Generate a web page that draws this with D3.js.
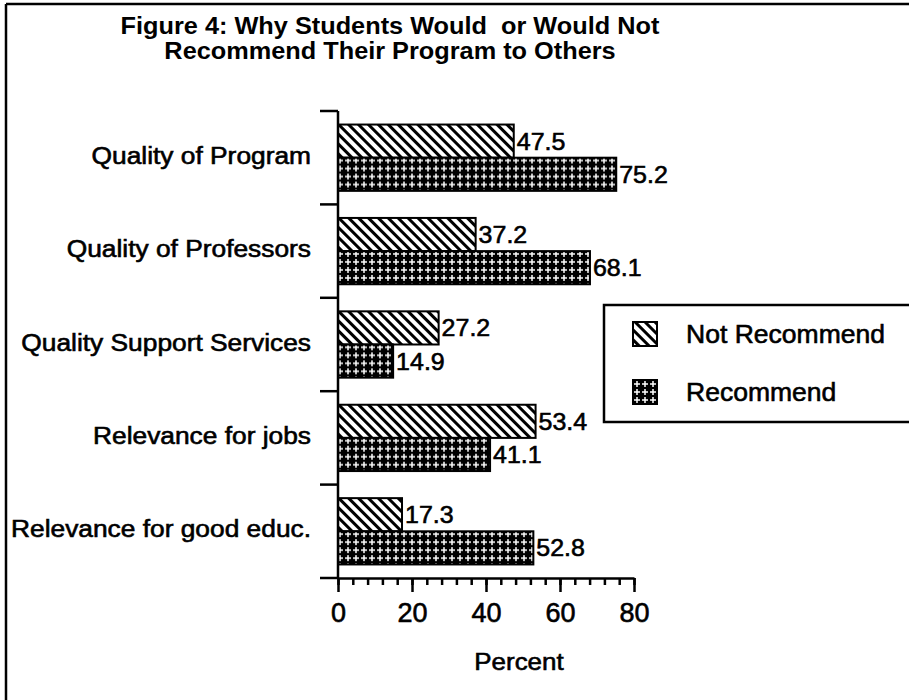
<!DOCTYPE html>
<html>
<head>
<meta charset="utf-8">
<script src="https://cdn.jsdelivr.net/npm/d3@7"></script>
<style>
  html, body { margin: 0; padding: 0; background: #fff; }
  svg { display: block; }
  text { font-family: "Liberation Sans", Arial, Helvetica, sans-serif; fill: #000; }
  text.heavy { stroke: #000; stroke-width: 0.6px; }
</style>
</head>
<body>
<svg id="chart" width="909" height="700"></svg>
<script>
// ---- data ----
const categories = [
  "Quality of Program",
  "Quality of Professors",
  "Quality Support Services",
  "Relevance for jobs",
  "Relevance for good educ."
];
const seriesNames = ["Not Recommend", "Recommend"];
const notRecommend = [47.5, 37.2, 27.2, 53.4, 17.3];
const recommend = [75.2, 68.1, 14.9, 41.1, 52.8];
const xTicks = [0, 20, 40, 60, 80];
const titleLines = ["Figure 4: Why Students Would  or Would Not", "Recommend Their Program to Others"];
const xLabel = "Percent";

const seriesValues = [notRecommend, recommend];
const patternIds = ["pNot", "pRec"];

const svg = d3.select("#chart");

function stretch(sel, f) {
  sel.each(function () {
    const w = this.getComputedTextLength();
    this.setAttribute("textLength", w * f);
    this.setAttribute("lengthAdjust", "spacingAndGlyphs");
  });
}

// ---- patterns ----
const defs = svg.append("defs");
const p1 = defs.append("pattern").attr("id", "pNot")
  .attr("patternUnits", "userSpaceOnUse").attr("width", 7).attr("height", 7)
  .attr("patternTransform", "rotate(-45)");
p1.append("rect").attr("width", 7).attr("height", 7).attr("fill", "#fff");
p1.append("rect").attr("x", 0).attr("width", 3).attr("height", 7).attr("fill", "#000");

const p2 = defs.append("pattern").attr("id", "pRec")
  .attr("patternUnits", "userSpaceOnUse").attr("width", 8).attr("height", 8);
p2.append("rect").attr("width", 8).attr("height", 8).attr("fill", "#000");
p2.append("rect").attr("x", 1).attr("y", 3.25).attr("width", 6).attr("height", 1.5).attr("fill", "#fff");
p2.append("rect").attr("x", 3.25).attr("y", 1).attr("width", 1.5).attr("height", 6).attr("fill", "#fff");

// ---- frame ----
svg.append("line").attr("x1", 6).attr("y1", 4).attr("x2", 909).attr("y2", 4)
  .attr("stroke", "#000").attr("stroke-width", 2.5);
svg.append("line").attr("x1", 6).attr("y1", 4).attr("x2", 6).attr("y2", 700)
  .attr("stroke", "#000").attr("stroke-width", 2.5);

// ---- title ----
const title = svg.append("g").selectAll("text").data(titleLines).join("text")
  .attr("x", 390).attr("y", (d, i) => 34 + i * 25)
  .attr("text-anchor", "middle")
  .style("font-size", "23px").style("font-weight", "bold")
  .style("white-space", "pre")
  .text(d => d);
stretch(title, 1.1);

// ---- scales ----
const x = d3.scaleLinear().domain([0, 80]).range([338, 634]);
const y = d3.scaleBand().domain(categories).range([111, 578])
  .paddingInner(0.29).paddingOuter(0.145);
const ySub = d3.scaleBand().domain(seriesNames).range([0, y.bandwidth()]);

// ---- bars ----
const groups = svg.append("g").selectAll("g").data(categories).join("g")
  .attr("transform", d => `translate(0,${y(d)})`);

seriesNames.forEach((s, si) => {
  groups.append("rect")
    .attr("x", x(0))
    .attr("y", ySub(s))
    .attr("width", (d, i) => x(seriesValues[si][i]) - x(0))
    .attr("height", ySub.bandwidth())
    .attr("fill", `url(#${patternIds[si]})`)
    .attr("stroke", "#000").attr("stroke-width", 2);
  const lbl = groups.append("text").attr("class", "heavy")
    .attr("x", (d, i) => x(seriesValues[si][i]) + 3)
    .attr("y", ySub(s) + ySub.bandwidth() / 2 + 8.5)
    .style("font-size", "24px")
    .text((d, i) => seriesValues[si][i].toFixed(1));
  stretch(lbl, 1.04);
});

// ---- y axis ----
const r0 = y.range()[0];
const yAxis = svg.append("g");
yAxis.append("line").attr("x1", x(0)).attr("x2", x(0))
  .attr("y1", r0).attr("y2", y.range()[1])
  .attr("stroke", "#000").attr("stroke-width", 2.5);
yAxis.selectAll("line.tk").data(d3.range(categories.length + 1)).join("line")
  .attr("class", "tk")
  .attr("x1", x(0) - 18).attr("x2", x(0))
  .attr("y1", i => r0 + i * y.step()).attr("y2", i => r0 + i * y.step())
  .attr("stroke", "#000").attr("stroke-width", 2.5);
const catLbl = yAxis.selectAll("text").data(categories).join("text")
  .attr("class", "heavy")
  .attr("x", 311)
  .attr("y", d => y(d) + y.bandwidth() / 2 + 6)
  .attr("text-anchor", "end")
  .style("font-size", "23.5px")
  .text(d => d);
stretch(catLbl, 1.12);

// ---- x axis ----
const xAxisY = y.range()[1];
const minorAxis = svg.append("g").attr("transform", `translate(0,${xAxisY})`)
  .call(d3.axisBottom(x).tickValues(d3.range(0, 81, 4)).tickSize(7).tickSizeOuter(0).tickFormat(""));
minorAxis.selectAll("line").attr("stroke-width", 2.5);
minorAxis.select(".domain").attr("stroke-width", 2.5);

const majorAxis = svg.append("g").attr("transform", `translate(0,${xAxisY})`)
  .call(d3.axisBottom(x).tickValues(xTicks).tickSize(14).tickSizeOuter(0));
majorAxis.select(".domain").remove();
majorAxis.selectAll("line").attr("stroke-width", 2.5);
majorAxis.selectAll("text")
  .attr("class", "heavy")
  .attr("y", 44).attr("dy", 0)
  .style("font-size", "27px").style("font-family", "Liberation Sans, Arial, sans-serif")
  .attr("fill", "#000");

const xl = svg.append("text").attr("class", "heavy").attr("x", 519).attr("y", 670)
  .attr("text-anchor", "middle").style("font-size", "24px").text(xLabel);
stretch(xl, 1.08);

// ---- legend ----
const legend = svg.append("g");
legend.append("rect").attr("x", 604).attr("y", 305).attr("width", 320).attr("height", 117)
  .attr("fill", "#fff").attr("stroke", "#000").attr("stroke-width", 2.5);
const li = legend.selectAll("g.item").data(seriesNames).join("g").attr("class", "item")
  .attr("transform", (d, i) => `translate(633,${322 + i * 58})`);
li.append("rect").attr("width", 24).attr("height", 24)
  .attr("fill", (d, i) => `url(#${patternIds[i]})`)
  .attr("stroke", "#000").attr("stroke-width", 2);
const lt = li.append("text").attr("class", "heavy").attr("x", 53).attr("y", 21)
  .style("font-size", "26px").text(d => d);
stretch(lt, 1.02);
</script>
</body>
</html>
